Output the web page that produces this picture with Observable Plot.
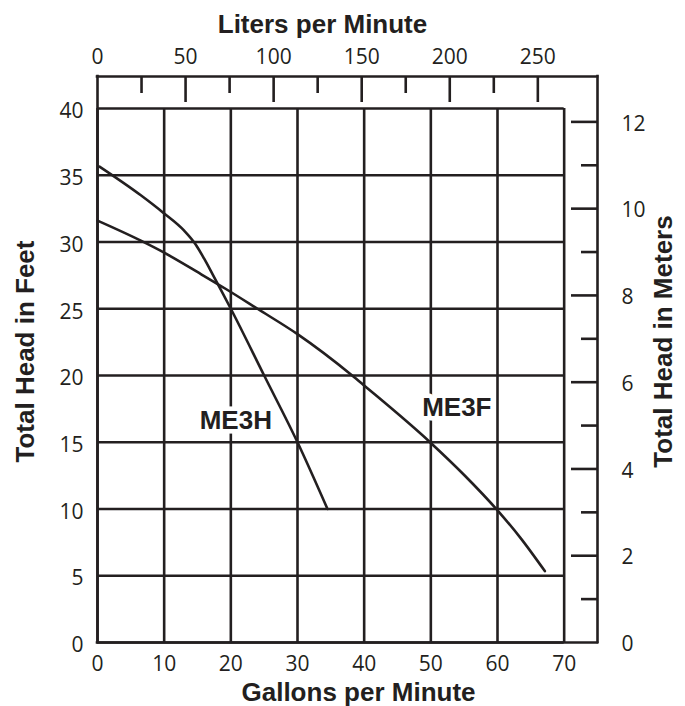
<!DOCTYPE html>
<html>
<head>
<meta charset="utf-8">
<script src="https://cdn.jsdelivr.net/npm/d3@7"></script>
<script src="https://cdn.jsdelivr.net/npm/@observablehq/plot@0.6"></script>
<style>
  html, body { margin: 0; padding: 0; background: #fff; }
</style>
</head>
<body>
<div id="chart"></div>
<script>
// ---- data ----
const me3hGpm  = [0.3, 6.5, 9.85, 13.0, 14.75, 16.0, 17.25, 20.0, 25.0, 30.0, 34.5];
const me3hFeet = [35.65, 33.5, 32.2, 30.85, 29.8, 28.75, 27.6, 25.0, 20.0, 15.0, 10.0];

const me3fGpm  = [0, 6.5, 10, 15.5, 19.2, 24, 30, 38.2, 40, 50, 55, 60, 63.5, 67.1];
const me3fFeet = [31.6, 30.1, 29.2, 27.6, 26.5, 25.0, 23.1, 20.0, 19.25, 14.95, 12.55, 9.9, 7.8, 5.35];

const curveNames  = ["ME3H", "ME3F"];
const labelGpm    = [20.75, 53.9];
const labelFeet   = [16.6, 17.6];

const gpmTicks    = [0, 10, 20, 30, 40, 50, 60, 70];
const feetTicks   = [0, 5, 10, 15, 20, 25, 30, 35, 40];
const literLabels = [0, 50, 100, 150, 200, 250];
const literMajor  = [50, 100, 150, 200, 250];
const literMinor  = [25, 75, 125, 175, 225];
const meterMajor  = [0, 2, 4, 6, 8, 10, 12];
const meterMinor  = [1, 3, 5, 7, 9, 11];

const LITERS_PER_GALLON = 3.785;
const FEET_PER_METER = 3.25;   // as drawn on the meter scale
const X_END = 75;              // right edge of the outer frame (GPM units)
const Y_TOP = 42.4;            // top edge of the outer frame (feet units)

// ---- derived tables ----
const me3h = me3hGpm.map((g, i) => ({gpm: g, feet: me3hFeet[i]}));
const me3f = me3fGpm.map((g, i) => ({gpm: g, feet: me3fFeet[i]}));
const labels = curveNames.map((n, i) => ({name: n, gpm: labelGpm[i], feet: labelFeet[i]}));
const toGpm = l => l / LITERS_PER_GALLON;
const toFeet = m => m * FEET_PER_METER;

const INK = "#231f20";
const SW = 2.6;
const BOLD = "'Liberation Sans', Arial, sans-serif";
const titleStyle = {fontFamily: BOLD, fontWeight: "bold", fontSize: 26, fill: INK, textAnchor: "middle", lineAnchor: "middle"};

const chart = Plot.plot({
  width: 685,
  height: 706,
  marginLeft: 97,
  marginRight: 88,
  marginTop: 76,
  marginBottom: 64,
  x: {domain: [0, X_END]},
  y: {domain: [0, Y_TOP]},
  style: {fontFamily: "'Open Sans', sans-serif", fontSize: "21px", color: INK, background: "white"},
  marks: [
    // grid
    Plot.ruleX(gpmTicks, {y1: 0, y2: 40, stroke: INK, strokeWidth: SW}),
    Plot.ruleY(feetTicks, {x1: 0, x2: 70, stroke: INK, strokeWidth: SW}),
    // outer frame
    Plot.ruleX([0, X_END], {y1: 0, y2: Y_TOP, stroke: INK, strokeWidth: SW, strokeLinecap: "square"}),
    Plot.ruleY([0, Y_TOP], {x1: 0, x2: X_END, stroke: INK, strokeWidth: SW, strokeLinecap: "square"}),

    // bottom axis (GPM)
    Plot.axisX({anchor: "bottom", ticks: gpmTicks, tickSize: 0, tickPadding: 14, fill: INK, label: null}),
    // left axis (feet)
    Plot.axisY({anchor: "left", ticks: feetTicks, tickSize: 0, tickPadding: 14, dy: 3, fill: INK, label: null}),

    // top axis (liters per minute)
    Plot.axisX({anchor: "top", ticks: literMajor.map(toGpm), tickSize: -25, stroke: INK, strokeWidth: SW, tickFormat: () => "", label: null}),
    Plot.axisX({anchor: "top", ticks: literMinor.map(toGpm), tickSize: -16, stroke: INK, strokeWidth: SW, tickFormat: () => "", label: null}),
    Plot.axisX({anchor: "top", ticks: literLabels.map(toGpm), tickSize: 0, tickPadding: 13, fill: INK, label: null,
                tickFormat: d => String(Math.round(d * LITERS_PER_GALLON))}),

    // right axis (meters)
    Plot.axisY({anchor: "right", ticks: meterMajor.slice(1).map(toFeet), tickSize: -27, stroke: INK, strokeWidth: SW, tickFormat: () => "", label: null}),
    Plot.axisY({anchor: "right", ticks: meterMinor.map(toFeet), tickSize: -17, stroke: INK, strokeWidth: SW, tickFormat: () => "", label: null}),
    Plot.axisY({anchor: "right", ticks: meterMajor.map(toFeet), tickSize: 0, tickPadding: 24, dy: 2, fill: INK, label: null,
                textAnchor: "start", tickFormat: d => String(Math.round(d / FEET_PER_METER))}),

    // curves
    Plot.line(me3h, {x: "gpm", y: "feet", stroke: INK, strokeWidth: SW, curve: "monotone-x"}),
    Plot.line(me3f, {x: "gpm", y: "feet", stroke: INK, strokeWidth: SW, curve: "monotone-x"}),

    // curve labels
    Plot.text(labels, {x: "gpm", y: "feet", text: "name", fontFamily: BOLD, fontWeight: "bold", fontSize: 26,
                       fill: INK, stroke: "white", strokeWidth: 9, strokeLinejoin: "round"}),

    // axis titles
    Plot.text(["Gallons per Minute"], {frameAnchor: "bottom", dx: 11, dy: 50, ...titleStyle}),
    Plot.text(["Liters per Minute"], {frameAnchor: "top", dx: -25, dy: -52, ...titleStyle}),
    Plot.text(["Total Head in Feet"], {frameAnchor: "left", rotate: -90, dx: -72, dy: -8, ...titleStyle}),
    Plot.text(["Total Head in Meters"], {frameAnchor: "right", rotate: -90, dx: 66, dy: -18, ...titleStyle})
  ]
});

document.getElementById("chart").appendChild(chart);
</script>
</body>
</html>
